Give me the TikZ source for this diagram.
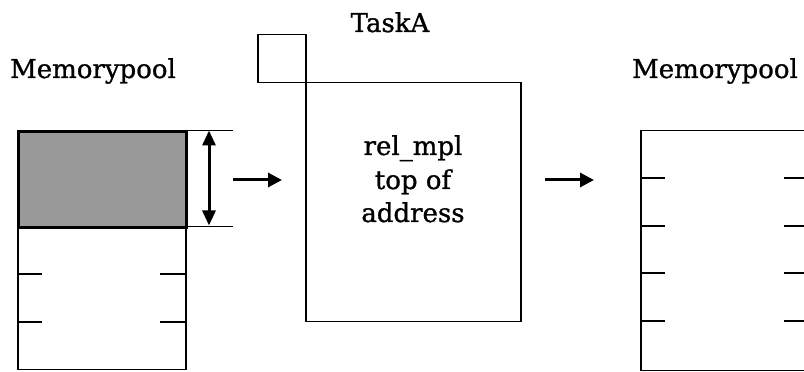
\documentclass[tikz,border=0pt]{standalone}
\usepackage{fontspec}
\setmainfont{DejaVu Serif}
\newfontfamily\lblfont[FakeBold=1]{DejaVu Serif}
\usetikzlibrary{arrows.meta}
\begin{document}
\begin{tikzpicture}[x=1pt,y=1pt,
  lbl/.style={font=\lblfont\fontsize{26}{31}\selectfont, inner sep=0pt, anchor=base},
  boxline/.style={draw=black, line width=1.5pt},
  tick/.style={line width=1.2pt},
  dimline/.style={line width=0.9pt},
  bigarrow/.style={line width=3pt, -{Triangle[length=14pt,width=14pt]}},
  dblarrow/.style={line width=3pt, {Triangle[length=15pt,width=13pt]}-{Triangle[length=15pt,width=13pt]}, shorten <=0.5pt, shorten >=0.5pt}
]
\useasboundingbox (0,0) rectangle (804,372);
\clip (0,0) rectangle (804,372);
\fill[white] (0,0) rectangle (804,372);

% labels
\node[lbl] (mp1) at (93,294) {Memorypool};
\node[lbl] (taska) at (390,340) {TaskA};
\node[lbl] (mp2) at (715,294) {Memorypool};

% left memory pool
\node[boxline, minimum width=168pt, minimum height=239pt, inner sep=0pt, anchor=north west] (pool1) at (17,242) {};
\node[draw=black, line width=2.6pt, fill=black!40, minimum width=168pt, minimum height=96pt, inner sep=0pt, anchor=north west] (used) at (17,242) {};
\foreach \y in {98,50} {
  \draw[tick] (17,\y) -- (42,\y);
  \draw[tick] (160,\y) -- (185,\y);
}
% dimension
\coordinate (d1a) at (185,242); \coordinate (d1b) at (233,242);
\coordinate (d2a) at (185,146); \coordinate (d2b) at (233,146);
\draw[dimline] (d1a) -- (d1b);
\draw[dimline] (d2a) -- (d2b);
\coordinate (dt) at (209,242); \coordinate (db) at (209,146);
\draw[dblarrow] (dt) -- (db);

% arrow 1
\coordinate (a1s) at (233,192); \coordinate (a1e) at (282,192);
\draw[bigarrow] (a1s) -- (a1e);

% task box
\node[boxline, minimum width=48pt, minimum height=48pt, inner sep=0pt, anchor=north west] (small) at (257,338) {};
\node[boxline, minimum width=215pt, minimum height=239pt, inner sep=0pt, anchor=north west, fill=white] (task) at (305,290) {};
\node[lbl] (t1) at (413,217) {rel\_mpl};
\node[lbl] (t2) at (413,183) {top of};
\node[lbl] (t3) at (413,150) {address};

% arrow 2
\coordinate (a2s) at (545,192); \coordinate (a2e) at (594,192);
\draw[bigarrow] (a2s) -- (a2e);

% right memory pool
\node[boxline, minimum width=200pt, minimum height=240pt, inner sep=0pt, anchor=north west] (pool2) at (640,242) {};
\foreach \y in {194,146,99,51} {
  \draw[tick] (640,\y) -- (665,\y);
  \draw[tick] (784,\y) -- (810,\y);
}
\end{tikzpicture}
\end{document}
